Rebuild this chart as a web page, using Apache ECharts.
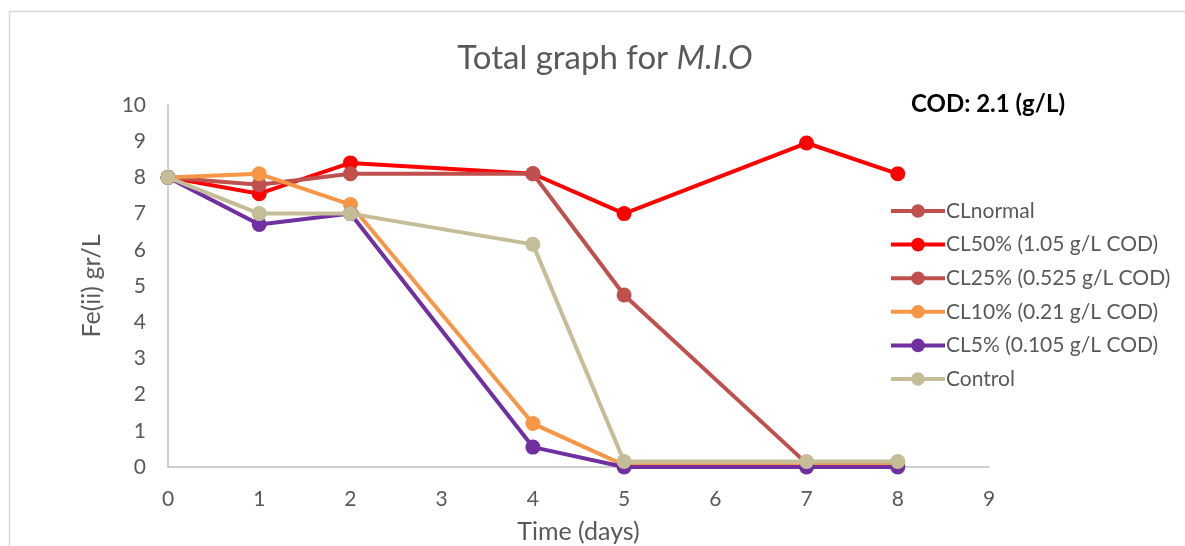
<!DOCTYPE html>
<html>
<head>
<meta charset="utf-8">
<script src="https://cdn.jsdelivr.net/npm/echarts@6/dist/echarts.min.js"></script>
<style>html,body{margin:0;padding:0;background:#fff;}#c{width:1185px;height:546px;}</style>
</head>
<body>
<div id="c"></div>
<script>
var seriesNames = ['CLnormal', 'CL50% (1.05 g/L COD)', 'CL25% (0.525 g/L COD)', 'CL10% (0.21 g/L COD)', 'CL5% (0.105 g/L COD)', 'Control'];
var colors = ['#C0504D', '#FF0000', '#C0504D', '#F79646', '#7030A0', '#C4BD97'];
var days = [0, 1, 2, 4, 5, 7, 8];
var clNormal = [];
var cl50 = [8, 7.55, 8.4, 8.1, 7.0, 8.95, 8.1];
var cl25 = [8, 7.8, 8.1, 8.1, 4.75, 0.1, 0.1];
var cl10 = [8, 8.1, 7.25, 1.2, 0.05, 0.05, 0.05];
var cl5 = [8, 6.7, 7.0, 0.55, 0, 0, 0];
var control = [8, 7.0, 7.0, 6.15, 0.15, 0.15, 0.15];
var allValues = [clNormal, cl50, cl25, cl10, cl5, control];

var font = 'Lato, "Open Sans", sans-serif';
function pairs(vals) { return vals.map(function (v, i) { return [days[i], v]; }); }

var series = seriesNames.map(function (n, i) {
  return {
    name: n, type: 'line', data: pairs(allValues[i]),
    symbol: 'circle', symbolSize: 15,
    lineStyle: { width: 4, color: colors[i] },
    itemStyle: { color: colors[i] },
    emphasis: { disabled: true },
    z: 2 + i
  };
});

var chart = echarts.init(document.getElementById('c'));
chart.setOption({
  animation: false,
  color: colors,
  title: {
    text: '{a|Total graph for }{b|M.I.O}',
    left: 600, textAlign: 'center', top: 37,
    textStyle: {
      fontWeight: 'normal',
      rich: {
        a: { fontFamily: font, fontSize: 33, fontWeight: 'normal', color: '#595959' },
        b: { fontFamily: font, fontSize: 33, fontWeight: 'normal', color: '#595959', fontStyle: 'italic' }
      }
    }
  },
  grid: { left: 168, right: 196, top: 105, bottom: 79, outerBoundsMode: 'none', containLabel: false },
  legend: {
    orient: 'vertical', left: 884, top: 195,
    itemWidth: 54, itemHeight: 17, itemGap: 11.6,
    lineStyle: { width: 4 },
    textStyle: { fontFamily: font, fontSize: 21, lineHeight: 22, color: '#595959', padding: [0, 0, 0, -4] },
    data: seriesNames
  },
  xAxis: {
    type: 'value', min: 0, max: 9, interval: 1,
    name: 'Time (days)', nameLocation: 'middle', nameGap: 52,
    nameTextStyle: { fontFamily: font, fontSize: 25, color: '#595959' },
    axisLine: { show: true, lineStyle: { color: '#bfbfbf', width: 1.5 } },
    axisTick: { show: false },
    splitLine: { show: false },
    axisLabel: { fontFamily: font, fontSize: 21, color: '#595959', margin: 22 }
  },
  yAxis: {
    type: 'value', min: 0, max: 10, interval: 1,
    name: 'Fe(ii) gr/L', nameLocation: 'middle', nameGap: 64, nameRotate: 90,
    nameTextStyle: { fontFamily: font, fontSize: 25, color: '#595959' },
    axisLine: { show: true, lineStyle: { color: '#bfbfbf', width: 1.5 } },
    axisTick: { show: false },
    splitLine: { show: false },
    axisLabel: { fontFamily: font, fontSize: 21, color: '#595959', margin: 22 }
  },
  graphic: [
    { type: 'line', shape: { x1: 9, y1: 11.5, x2: 1185, y2: 11.5 }, style: { stroke: '#d9d9d9', lineWidth: 1.5 }, silent: true },
    { type: 'line', shape: { x1: 9.5, y1: 11, x2: 9.5, y2: 546 }, style: { stroke: '#d9d9d9', lineWidth: 1.5 }, silent: true },
    { type: 'text', left: 911, top: 92, style: { text: 'COD: 2.1 (g/L)', fontFamily: font, fontSize: 24, fontWeight: 'bold', fill: '#000' } }
  ],
  series: series
});
</script>
</body>
</html>
